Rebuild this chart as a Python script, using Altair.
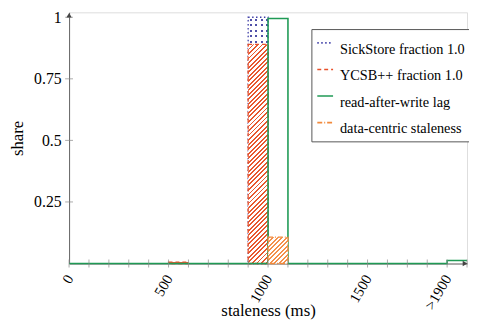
import altair as alt
import pandas as pd

# ---- data ----
bin_starts = [0, 100, 200, 300, 400, 500, 600, 700, 800, 900,
              1000, 1100, 1200, 1300, 1400, 1500, 1600, 1700, 1800, 1900]
bin_width = 100
series_names = ["SickStore fraction 1.0", "YCSB++ fraction 1.0",
                "read-after-write lag", "data-centric staleness"]
sickstore_share = [0, 0, 0, 0, 0, 0, 0, 0, 0, 1.0,
                   0, 0, 0, 0, 0, 0, 0, 0, 0, 0]
ycsb_share = [0, 0, 0, 0, 0, 0.006, 0, 0, 0, 0.89,
              0, 0, 0, 0, 0, 0, 0, 0, 0, 0]
raw_lag_share = [0, 0, 0, 0, 0, 0, 0, 0, 0, 0,
                 0.995, 0, 0, 0, 0, 0, 0, 0, 0, 0.012]
dcs_share = [0, 0, 0, 0, 0, 0, 0, 0, 0, 0,
             0.107, 0, 0, 0, 0, 0, 0, 0, 0, 0]

x_tick_values = list(range(0, 2001, 100))
x_label_values = [0, 500, 1000, 1500, 1900]
x_label_texts = ["0", "500", "1000", "1500", ">1900"]
y_tick_values = [0.25, 0.5, 0.75, 1.0]

# ---- styles ----
FONT = "Liberation Serif"
stroke_colors = ["#4040a8", "#e8502a", "#1f9a55", "#f28a3c"]
pattern_fill = {"SickStore fraction 1.0": "#5050a8",
                "YCSB++ fraction 1.0": "#e8582e",
                "data-centric staleness": "#f4904a"}
dashes = [[1.5, 2.5], [4, 3], [1, 0], [5, 2, 1, 2]]
W, H = 404, 255
X_MAX, Y_MAX = 2000, 1.02
PERIOD = 4.6   # hatch period in pixels (x+y)
DOT = 5.6      # dot grid period in pixels


def hatch(w, h, color):
    """Diagonal '/' hatch as a bounding-box linear gradient."""
    c = (w + h) / (w * w + h * h)
    span = w + h
    stops = []
    i = 0
    while i * PERIOD < span:
        a = i * PERIOD / span
        b = min((i * PERIOD + 1.9) / span, 1.0)
        e = min((i + 1) * PERIOD / span, 1.0)
        stops += [{"offset": a, "color": color}, {"offset": b, "color": color},
                  {"offset": b, "color": "#ffffff"}, {"offset": e, "color": "#ffffff"}]
        i += 1
    return {"gradient": "linear", "x1": 0, "y1": 0,
            "x2": c * w, "y2": c * h, "stops": stops}


def stripes(length, color, gap, vertical):
    stops = []
    i = 0
    while i * DOT < length:
        a = (i * DOT + 1.5) / length
        b = min((i * DOT + 3.5) / length, 1.0)
        e = min((i + 1) * DOT / length, 1.0)
        s0 = i * DOT / length
        stops += [{"offset": s0, "color": gap}, {"offset": min(a, 1.0), "color": gap},
                  {"offset": min(a, 1.0), "color": color}, {"offset": b, "color": color},
                  {"offset": b, "color": gap}, {"offset": e, "color": gap}]
        i += 1
    if vertical:
        return {"gradient": "linear", "x1": 0, "y1": 0, "x2": 1, "y2": 0, "stops": stops}
    return {"gradient": "linear", "x1": 0, "y1": 0, "x2": 0, "y2": 1, "stops": stops}


x_scale = alt.Scale(domain=[0, X_MAX], nice=False, zero=False)
y_scale = alt.Scale(domain=[0, Y_MAX], nice=False)

label_expr = " : ".join(
    f"datum.value == {v} ? '{t}'" for v, t in zip(x_label_values, x_label_texts)
) + " : ''"

x_axis = alt.Axis(values=x_label_values, labelExpr=label_expr, ticks=False,
                  grid=False, labelAngle=300, labelFont=FONT, labelFontSize=15,
                  labelColor="black", labelPadding=12, domainColor="#666",
                  title="staleness (ms)", titleFont=FONT, titleFontSize=17,
                  titleFontWeight="normal", titleColor="black",
                  titleBaseline="alphabetic", titleY=53)
y_axis = alt.Axis(values=y_tick_values, labelExpr="'' + datum.value",
                  ticks=False, grid=False, labelFont=FONT, labelFontSize=16,
                  labelColor="black", labelPadding=8, domainColor="#666",
                  title="share", titleFont=FONT, titleFontSize=17,
                  titleFontWeight="normal", titleColor="black",
                  titleBaseline="alphabetic", titleX=-47)

legend = alt.Legend(title=None, orient="none", legendX=246, legendY=17,
                    symbolType="stroke", symbolSize=256, symbolStrokeWidth=1.6,
                    labelFont=FONT, labelFontSize=14.5, labelColor="black",
                    labelBaseline="top", labelLimit=400, strokeColor="#555",
                    fillColor="white", padding=5, rowPadding=4, labelOffset=6)


def bar_layer(df, **mark):
    return alt.Chart(df).mark_rect(**mark).encode(
        x=alt.X("x0:Q", scale=x_scale, axis=x_axis),
        x2="x1:Q",
        y=alt.Y("y0:Q", scale=y_scale, axis=y_axis),
        y2="value:Q")


# ---- bar layers (one per non-empty bin) ----
layers = []
dcs_layers = []
for name, vals in [(series_names[0], sickstore_share),
                   (series_names[1], ycsb_share),
                   (series_names[3], dcs_share)]:
    sidx = series_names.index(name)
    for s, v in zip(bin_starts, vals):
        if v <= 0:
            continue
        df = pd.DataFrame({"x0": [s], "x1": [s + bin_width], "y0": [0.0], "value": [v]})
        wpx = bin_width * W / X_MAX
        hpx = v * H / Y_MAX
        target = dcs_layers if sidx == 3 else layers
        if sidx == 0:
            # dotted pattern: blue rows, masked by white columns
            target.append(bar_layer(df, fill=stripes(hpx, pattern_fill[name], "#ffffff", False),
                                    strokeWidth=0))
            target.append(bar_layer(df, fill=stripes(wpx, "rgba(255,255,255,0)", "#ffffff", True),
                                    strokeWidth=0))
            target.append(bar_layer(df, fill="transparent", stroke=stroke_colors[sidx],
                                    strokeWidth=1.3, strokeDash=dashes[sidx]))
            continue
        fill = hatch(wpx, hpx, pattern_fill[name]) if hpx > 3 else pattern_fill[name]
        target.append(bar_layer(df, fill=fill, stroke=stroke_colors[sidx], strokeWidth=1.3,
                                strokeDash=dashes[sidx]))

raw_df = pd.DataFrame({
    "series": series_names[2],
    "x": bin_starts + [bin_starts[-1] + bin_width],
    "value": raw_lag_share + [raw_lag_share[-1]],
})
raw_line = alt.Chart(raw_df).mark_line(interpolate="step-after",
                                       strokeWidth=1.6).encode(
    x=alt.X("x:Q", scale=x_scale, axis=x_axis),
    y=alt.Y("value:Q", scale=y_scale, axis=y_axis),
    stroke=alt.Stroke("series:N", scale=alt.Scale(domain=series_names,
                      range=stroke_colors), legend=legend),
    strokeDash=alt.StrokeDash("series:N", scale=alt.Scale(domain=series_names,
                              range=dashes), legend=legend),
)

xticks = alt.Chart(pd.DataFrame({"x": x_tick_values})).mark_tick(
    orient="vertical", size=8, thickness=1, color="#888").encode(
    x=alt.X("x:Q", scale=x_scale), y=alt.datum(0))
yticks = alt.Chart(pd.DataFrame({"y": y_tick_values})).mark_tick(
    orient="horizontal", size=8, thickness=1, color="#888").encode(
    y=alt.Y("y:Q", scale=y_scale), x=alt.datum(0))

arrow_x = alt.Chart(pd.DataFrame({"x": [X_MAX - 10]})).mark_point(
    shape="triangle-right", filled=True, size=30, color="#444", opacity=1).encode(
    x=alt.X("x:Q", scale=x_scale), y=alt.datum(0))
arrow_y = alt.Chart(pd.DataFrame({"y": [Y_MAX - 0.012]})).mark_point(
    shape="triangle-up", filled=True, size=30, color="#444", opacity=1).encode(
    y=alt.Y("y:Q", scale=y_scale), x=alt.datum(0))

chart = alt.layer(*layers, raw_line, *dcs_layers, xticks, yticks,
                  arrow_x, arrow_y).properties(
    width=W, height=H,
    autosize=alt.AutoSizeParams(type="none"),
    padding={"left": 62, "top": 2, "right": 2, "bottom": 58},
).configure_view(stroke=None).configure(background="white")

chart.save("out.html", embed_options={"renderer": "svg", "actions": False})
